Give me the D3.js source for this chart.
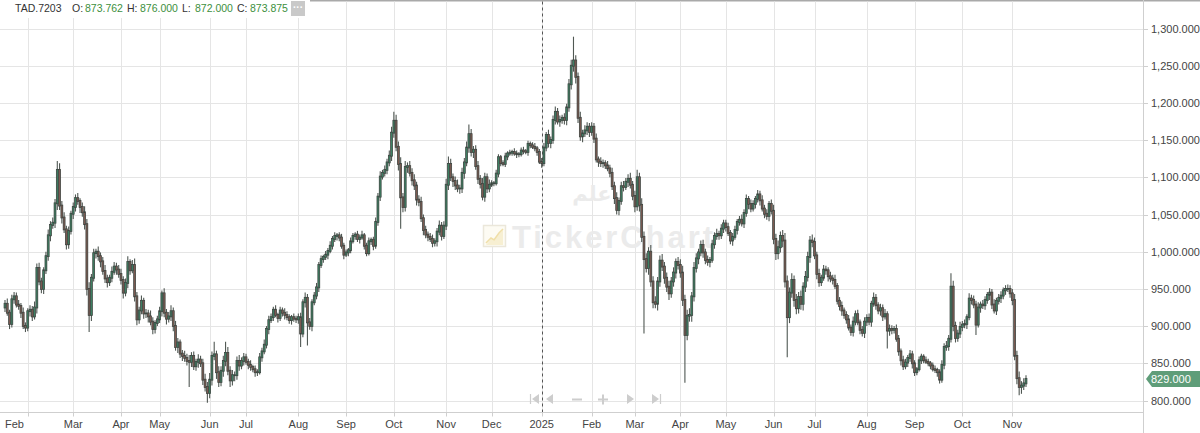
<!DOCTYPE html>
<html><head><meta charset="utf-8">
<script src="https://cdn.jsdelivr.net/npm/d3@7"></script>
<style>
body{margin:0;background:#fff;}
svg{display:block;font-family:"Liberation Sans",Arial,sans-serif;}
</style>
</head><body>
<svg id="c" width="1200" height="433"></svg>
<script>
// ---------- data ----------
const symbol = "TAD.7203";
const ohlcLabels = ["O:", "H:", "L:", "C:"];
const ohlcValues = [873.762, 876.000, 872.000, 873.875];
const monthLabels = ["Feb","Mar","Apr","May","Jun","Jul","Aug","Sep","Oct","Nov","Dec","2025","Feb","Mar","Apr","May","Jun","Jul","Aug","Sep","Oct","Nov"];
const monthStarts = [10,30,51,68,90,106,129,150,171,194,214,236,258,277,297,317,338,356,379,400,421,443];
const yTicks = [800,850,900,950,1000,1050,1100,1150,1200,1250,1300];
const firstOpen = 925;
const closes = [
930,918,903,936,940,929,927,918,900,898,
920,922,913,925,978,960,950,975,994,1022,1036,1039,1065,1110,1062,1046,1030,1010,1028,1051,
1060,1072,1068,1060,1053,1037,950,915,965,998,1000,994,987,974,964,959,965,973,980,976,970,
962,945,958,986,975,982,940,909,921,934,917,917,913,906,896,904,909,
920,944,918,910,913,920,900,872,878,863,860,857,853,852,860,846,852,855,850,828,818,810,
828,860,862,838,825,840,853,864,840,827,834,834,853,847,853,858,
852,848,845,842,838,838,858,866,875,896,908,912,922,915,911,921,918,915,912,908,912,910,909,
912,890,932,938,905,900,932,941,952,982,990,993,996,1001,1008,1017,1021,1022,1019,1008,996,
999,1002,1014,1021,1023,1017,1019,1022,1008,998,1014,1016,1008,1040,1074,1101,1106,1110,1120,1129,1160,
1176,1141,1118,1073,1060,1114,1115,1106,1096,1089,1070,1067,1045,1029,1023,1020,1017,1012,1014,1027,1035,1021,1035,
1090,1118,1100,1095,1089,1085,1085,1106,1120,1140,1158,1134,1137,1115,1098,1091,1074,1100,1085,1090,
1092,1092,1105,1127,1119,1118,1128,1132,1133,1134,1132,1131,1131,1136,1135,1134,1145,1143,1141,1139,1134,1121,
1119,1140,1157,1146,1150,1177,1188,1175,1177,1180,1177,1194,1225,1250,1257,1235,1180,1155,1159,1163,1168,1161,
1168,1152,1124,1121,1119,1119,1116,1112,1106,1088,1072,1056,1068,1088,1087,1094,1098,1090,1075,
1061,1100,1063,1020,990,978,1000,960,932,930,960,988,980,965,953,944,960,972,986,982,
972,935,888,914,915,940,978,991,999,1009,999,989,986,989,1010,1021,1024,1022,1031,1038,
1033,1025,1015,1020,1029,1040,1043,1038,1052,1071,1064,1058,1064,1071,1077,1069,1058,1051,1048,1064,1055,
1017,998,1006,1021,1015,960,912,945,962,935,924,939,930,953,966,993,1015,1013,
995,970,959,965,976,975,967,964,962,954,934,927,921,915,909,898,892,906,916,905,895,891,906,
911,906,930,938,928,921,924,913,916,894,896,895,896,883,866,854,846,851,857,862,850,
838,842,854,859,854,852,850,847,842,841,838,828,848,872,873,883,953,900,884,890,899,
902,903,912,937,935,929,902,925,929,928,935,942,945,929,921,934,938,941,948,950,950,944,
935,860,830,818,820,823,829
];
// how far each day's high reaches above its body, and its low below it (price units)
const hiExt = [
5,7,4,6,3,5,6,4,7,5,
4,6,5,8,6,7,5,4,6,8,5,7,6,5,9,6,7,5,6,4,
6,5,7,4,6,8,7,9,5,6,4,7,5,6,8,5,4,7,6,5,6,
7,5,6,8,4,7,9,6,5,7,4,6,5,8,6,4,5,
6,4,7,5,6,8,5,7,6,4,5,7,6,8,5,6,4,7,5,6,8,7,
9,6,7,5,8,6,7,5,8,6,7,5,6,8,5,6,
5,4,6,3,5,4,6,5,7,4,6,5,4,6,3,5,4,6,5,4,3,5,4,
5,6,4,7,5,6,4,5,6,4,5,3,5,4,6,4,5,3,4,5,4,
4,3,5,4,3,5,4,6,3,4,5,3,4,6,5,7,4,6,5,7,8,
6,8,7,9,6,8,5,7,6,8,5,6,7,5,6,4,5,6,4,5,7,5,6,
8,6,7,5,6,8,5,7,6,8,6,7,5,6,7,5,8,6,5,7,
4,3,5,4,3,4,5,3,4,3,5,4,3,4,5,3,4,3,4,5,3,4,
5,6,4,7,5,6,7,5,6,4,6,5,7,8,9,7,6,8,5,7,6,5,
6,5,7,4,6,5,4,6,5,7,6,8,5,6,7,5,6,8,5,
7,8,6,9,7,8,6,9,7,8,6,7,9,6,7,8,6,7,5,7,
8,9,7,8,9,6,8,7,5,6,7,5,6,4,6,5,7,4,6,5,
5,6,4,5,6,4,5,7,5,6,4,6,5,4,6,5,7,5,6,4,6,
8,7,9,6,8,10,8,7,9,6,8,7,9,6,8,7,6,8,
6,5,7,4,6,5,4,6,5,7,4,5,6,4,5,6,4,7,5,6,4,5,6,
5,6,4,7,5,4,6,5,7,4,6,5,4,6,5,4,6,5,4,6,5,
4,3,5,4,3,5,4,3,4,5,3,4,6,5,7,5,6,8,6,5,7,
5,6,4,7,5,6,5,7,4,6,5,4,6,5,7,4,5,6,4,5,6,5,
6,8,7,9,6,7,5
];
const loExt = [
6,4,7,5,6,4,5,7,4,6,
5,7,6,4,8,5,6,7,5,6,8,5,7,9,6,8,5,7,6,5,
7,6,5,8,6,7,9,6,8,5,7,6,8,5,6,7,5,6,4,7,5,
6,8,5,7,6,4,7,8,6,5,7,6,8,5,7,6,4,
5,7,6,8,5,6,7,5,8,6,7,5,6,4,7,5,6,8,5,7,6,5,
7,8,6,9,7,6,8,7,6,9,7,8,6,7,5,6,
4,6,5,4,6,5,3,6,4,5,7,4,5,3,6,4,5,6,4,5,6,4,5,
6,4,5,7,6,5,7,4,5,6,4,5,4,6,3,5,4,6,5,4,6,
3,5,4,3,5,4,6,3,5,4,3,5,6,4,5,6,4,5,6,5,7,
7,6,9,8,7,6,8,5,7,6,8,6,5,7,5,6,4,6,5,7,5,6,4,
6,7,5,8,6,5,7,6,8,5,7,6,8,5,7,6,5,7,6,5,
3,4,3,5,4,3,4,5,3,4,3,5,4,3,4,3,5,4,3,4,5,3,
6,4,5,6,7,5,6,4,7,5,6,7,6,7,8,9,7,6,8,5,6,7,
5,6,4,7,5,6,5,4,6,5,8,6,7,5,6,4,7,5,6,
8,6,9,7,8,6,9,7,8,6,9,7,6,8,7,9,6,7,8,6,
7,8,9,7,8,9,7,6,8,5,7,6,5,7,4,6,5,6,5,6,
6,4,5,7,4,6,5,4,6,5,7,5,4,6,5,7,4,6,5,7,5,
7,9,8,7,9,8,9,8,7,9,8,7,8,9,7,6,8,7,
5,7,6,5,4,6,7,5,6,4,5,6,7,5,6,4,5,6,5,4,6,5,7,
6,5,7,4,6,5,7,6,4,5,7,6,5,4,6,7,5,4,6,5,7,
5,4,3,5,4,3,4,5,3,4,6,5,4,6,5,6,5,7,6,5,6,
6,5,7,4,6,5,6,4,7,5,6,5,7,6,4,6,5,7,5,6,4,6,
7,6,8,7,9,6,5
];
// notable long wicks
const wickHighIdx = [4,23,92,97,171,195,204,250,278,416];
const wickHighVal = [946,1122,879,879,1188,1128,1171,1289,1110,971];
const wickLowIdx = [37,81,89,130,133,174,281,299,344,388,411,427,446];
const wickLowVal = [892,818,797,872,874,1031,890,824,858,870,823,888,807];
const lastPrice = 829;
const watermarkText = "TickerChart";
const watermarkArabic = "علم";

// ---------- layout ----------
const W = 1200, H = 433;
const plotRight = 1143, axisY = 412.5;
const svg = d3.select("#c");

const x = d3.scaleLinear().domain([0, closes.length - 1]).range([5, 1026]);
const y = d3.scaleLinear().domain([800, 1300]).range([400.5, 28.5]);
const fmt = d3.format(",.3f");

// top border
svg.append("line").attr("x1", 0).attr("x2", W).attr("y1", 0.75).attr("y2", 0.75)
  .attr("stroke", "#a9a9a9").attr("stroke-width", 1.5);

// grid
const grid = svg.append("g");
grid.selectAll("line.h").data(yTicks).join("line")
  .attr("x1", 0).attr("x2", plotRight)
  .attr("y1", d => Math.round(y(d)) + 0.5).attr("y2", d => Math.round(y(d)) + 0.5)
  .attr("stroke", "#e5e5e5");
grid.selectAll("line.v").data(monthStarts).join("line")
  .attr("x1", d => Math.round(x(d)) + 0.5).attr("x2", d => Math.round(x(d)) + 0.5)
  .attr("y1", 1.5).attr("y2", axisY)
  .attr("stroke", "#e5e5e5");

// watermark
const wm = svg.append("g");
wm.append("rect").attr("x", 483.5).attr("y", 225.5).attr("width", 22).attr("height", 21)
  .attr("fill", "#fdfbf3").attr("stroke", "#ebe7da").attr("stroke-width", 1.5);
wm.append("polygon").attr("points", "486,245 491,239 494,241 499,234 503,230 503,245")
  .attr("fill", "#f7efd2");
wm.append("polyline").attr("points", "486,243 491,238 494,240 499,233 503,229")
  .attr("fill", "none").attr("stroke", "#f0dfa8").attr("stroke-width", 1.6);
wm.append("text").attr("x", 512).attr("y", 247.5)
  .attr("font-size", 31).attr("font-weight", "bold").attr("fill", "#ebebeb")
  .attr("textLength", 201).attr("lengthAdjust", "spacing")
  .text(watermarkText);
wm.append("text").attr("x", 592).attr("y", 201).attr("text-anchor", "middle")
  .attr("font-size", 21).attr("font-weight", "bold").attr("fill", "#ebebeb")
  .attr("font-family", "'DejaVu Sans', sans-serif")
  .text(watermarkArabic);

// year separator (dashed)
const sepX = Math.round(x(monthStarts[monthLabels.indexOf("2025")])) + 0.5;
svg.append("line").attr("x1", sepX).attr("x2", sepX).attr("y1", 1.5).attr("y2", axisY)
  .attr("stroke", "#555").attr("stroke-dasharray", "3,3");

// navigation icons
const nav = svg.append("g").attr("fill", "#cdcdcd").attr("stroke", "#cdcdcd");
nav.append("line").attr("x1", 530.5).attr("x2", 530.5).attr("y1", 394).attr("y2", 404).attr("stroke-width", 1.2);
nav.append("polygon").attr("points", "539,394 532,399 539,404").attr("stroke", "none");
nav.append("polygon").attr("points", "553,394 546,399 553,404").attr("stroke", "none");
nav.append("line").attr("x1", 572).attr("x2", 582).attr("y1", 399.5).attr("y2", 399.5).attr("stroke-width", 2);
nav.append("line").attr("x1", 598).attr("x2", 608).attr("y1", 399.5).attr("y2", 399.5).attr("stroke-width", 2);
nav.append("line").attr("x1", 603).attr("x2", 603).attr("y1", 394.5).attr("y2", 404.5).attr("stroke-width", 2);
nav.append("polygon").attr("points", "627,394 634,399 627,404").attr("stroke", "none");
nav.append("polygon").attr("points", "652,394 659,399 652,404").attr("stroke", "none");
nav.append("line").attr("x1", 660.5).attr("x2", 660.5).attr("y1", 394).attr("y2", 404).attr("stroke-width", 1.2);

// candles
const hiMap = new Map(wickHighIdx.map((d, i) => [d, wickHighVal[i]]));
const loMap = new Map(wickLowIdx.map((d, i) => [d, wickLowVal[i]]));
const candles = closes.map((c, i) => {
  const o = i === 0 ? firstOpen : closes[i - 1];
  const h = Math.max(Math.max(o, c) + (hiExt[i] ?? 0), hiMap.get(i) ?? -Infinity);
  const l = Math.min(Math.min(o, c) - (loExt[i] ?? 0), loMap.get(i) ?? Infinity);
  return {i, o, h, l, c};
});
const bw = 1.9;
const cg = svg.append("g");
cg.selectAll("line").data(candles).join("line")
  .attr("x1", d => x(d.i)).attr("x2", d => x(d.i))
  .attr("y1", d => y(d.h)).attr("y2", d => y(d.l))
  .attr("stroke", "#505853").attr("stroke-width", 1.1);
cg.selectAll("rect").data(candles).join("rect")
  .attr("x", d => x(d.i) - bw / 2).attr("width", bw)
  .attr("y", d => Math.min(y(d.o), y(d.c)) - 0.5)
  .attr("height", d => Math.abs(y(d.o) - y(d.c)) + 1)
  .attr("fill", d => d.c >= d.o ? "#3e8063" : "#7d5b52")
  .attr("stroke", "#3c433f").attr("stroke-width", 0.75);

// axes
svg.append("line").attr("x1", plotRight + 0.5).attr("x2", plotRight + 0.5).attr("y1", 0).attr("y2", H)
  .attr("stroke", "#cfcfcf");
svg.append("line").attr("x1", 0).attr("x2", plotRight).attr("y1", axisY).attr("y2", axisY)
  .attr("stroke", "#cfcfcf");

const ya = svg.append("g");
ya.selectAll("line").data(yTicks).join("line")
  .attr("x1", plotRight).attr("x2", plotRight + 5)
  .attr("y1", d => Math.round(y(d)) + 0.5).attr("y2", d => Math.round(y(d)) + 0.5)
  .attr("stroke", "#cfcfcf");
ya.selectAll("text").data(yTicks).join("text")
  .attr("x", 1151).attr("y", d => y(d) + 4)
  .attr("font-size", 11).attr("fill", "#444")
  .text(d => fmt(d));

const xa = svg.append("g");
xa.selectAll("line").data(monthStarts).join("line")
  .attr("x1", d => Math.round(x(d)) + 0.5).attr("x2", d => Math.round(x(d)) + 0.5)
  .attr("y1", axisY).attr("y2", axisY + 4)
  .attr("stroke", "#cfcfcf");
xa.selectAll("text").data(monthStarts).join("text")
  .attr("x", (d, i) => i === 0 ? x(0) : x(d))
  .attr("text-anchor", (d, i) => i === 0 ? "start" : "middle")
  .attr("y", 428)
  .attr("font-size", 11).attr("fill", "#444")
  .text((d, i) => monthLabels[i]);

// last price label
const ly = y(lastPrice);
svg.append("path")
  .attr("d", `M${plotRight + 3},${ly} L${plotRight + 9},${ly - 8} L${W},${ly - 8} L${W},${ly + 8} L${plotRight + 9},${ly + 8} Z`)
  .attr("fill", "#5f9d79");
svg.append("text").attr("x", 1151).attr("y", ly + 4)
  .attr("font-size", 11).attr("fill", "#fff").text(fmt(lastPrice));

// header
const hd = svg.append("g").attr("font-size", 10.5);
hd.append("rect").attr("x", 0).attr("y", 0).attr("width", 310).attr("height", 18).attr("fill", "#fff");
hd.append("text").attr("x", 15).attr("y", 12).attr("fill", "#333").text(symbol);
const lblX = [72, 127, 182, 237];
const valX = [85, 140, 195, 250];
ohlcLabels.forEach((l, i) => {
  hd.append("text").attr("x", lblX[i]).attr("y", 12).attr("fill", "#333").text(l);
  hd.append("text").attr("x", valX[i]).attr("y", 12).attr("fill", "#3d8f3d").text(ohlcValues[i].toFixed(3));
});
hd.append("rect").attr("x", 291).attr("y", 1).attr("width", 14).attr("height", 15).attr("fill", "#c9c9c9");
hd.append("text").attr("x", 298).attr("y", 11).attr("text-anchor", "middle").attr("fill", "#fff")
  .attr("font-size", 10).attr("font-weight", "bold").text("···");
</script>
</body></html>
